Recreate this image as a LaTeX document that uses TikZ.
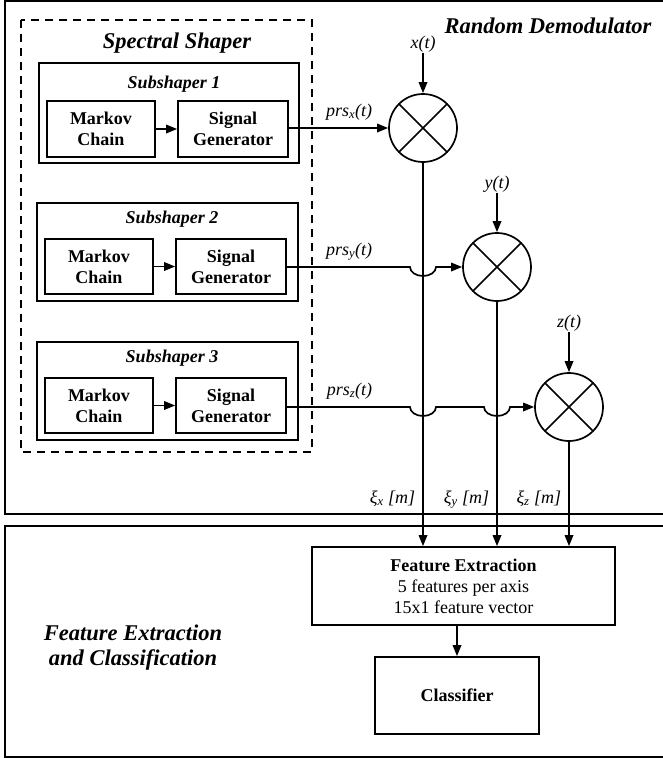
\documentclass[tikz,border=0pt]{standalone}
\usepackage{fontspec}
\setmainfont{Liberation Serif}
\usetikzlibrary{arrows.meta}
\begin{document}
\begin{tikzpicture}[x=1pt,y=-1pt, line width=1.7pt,
  box/.style={draw, line width=1.7pt, inner sep=0pt, align=center, font=\bfseries\fontsize{18}{21}\selectfont},
  arr/.style={-{Triangle[length=11pt,width=8.5pt]}},
  mult/.style={draw, circle, minimum size=68pt, inner sep=0pt,
    path picture={\draw[line width=1.7pt] (path picture bounding box.north west) -- (path picture bounding box.south east)
      (path picture bounding box.south west) -- (path picture bounding box.north east);}},
  ttl/.style={font=\bfseries\itshape\fontsize{22.5}{25}\selectfont, inner sep=0pt},
  sttl/.style={font=\bfseries\itshape\fontsize{18}{21}\selectfont, inner sep=0pt},
  lbl/.style={font=\itshape\fontsize{18}{21}\selectfont, inner sep=0pt}]
\useasboundingbox (0,0) rectangle (663,758);
\begin{scope}
\clip (0,0) rectangle (663,758);
% outer frames
\draw (5,1) rectangle (690,514);
\draw (5,526) rectangle (690,757);
\end{scope}
% dashed spectral shaper
\draw[dash pattern=on 8pt off 6pt] (21,20) rectangle (312,452);
\node[ttl, anchor=base] (ssh) at (177,48) {Spectral Shaper};
\node[ttl, anchor=base] (rdm) at (548,33) {Random Demodulator};
% subshaper frames
\draw (39,63) rectangle (299,163);
\draw (37,203) rectangle (298,301);
\draw (37,342) rectangle (298,440);
\node[sttl, anchor=base] (t1) at (174,88) {Subshaper 1};
\node[sttl, anchor=base] (t2) at (172,223) {Subshaper 2};
\node[sttl, anchor=base] (t3) at (172,362) {Subshaper 3};
% inner boxes
\node[box, minimum width=108pt, minimum height=56pt] (mc1) at (101,129) {Markov\\Chain};
\node[box, minimum width=110pt, minimum height=56pt] (sg1) at (233,129) {Signal\\Generator};
\node[box, minimum width=108pt, minimum height=55pt] (mc2) at (99,266.5) {Markov\\Chain};
\node[box, minimum width=110pt, minimum height=55pt] (sg2) at (231,266.5) {Signal\\Generator};
\node[box, minimum width=108pt, minimum height=55pt] (mc3) at (99,405.5) {Markov\\Chain};
\node[box, minimum width=110pt, minimum height=55pt] (sg3) at (231,405.5) {Signal\\Generator};
\draw[arr] (mc1) -- (sg1);
\draw[arr] (mc2) -- (sg2);
\draw[arr] (mc3) -- (sg3);
% multipliers
\node[mult] (c1) at (423,128) {};
\node[mult] (c2) at (497,267) {};
\node[mult] (c3) at (569,407) {};
\node[lbl, anchor=base] (xt) at (423,48) {x(t)};
\node[lbl, anchor=base] (yt) at (497,188) {y(t)};
\node[lbl, anchor=base] (zt) at (569,327) {z(t)};
\draw[arr] (xt.south) -- (c1.north);
\draw[arr] (yt.south) -- (c2.north);
\draw[arr] (zt.south) -- (c3.north);
\node[lbl, anchor=base east] (px) at (373,116) {prs\textsubscript{x}(t)};
\node[lbl, anchor=base east] (py) at (373,255) {prs\textsubscript{y}(t)};
\node[lbl, anchor=base east] (pz) at (373,395) {prs\textsubscript{z}(t)};
\draw[arr] (sg1.east |- c1.west) -- (c1.west);
\draw[arr] (sg2.east |- c2.west) -- (410,267) arc[start angle=180,end angle=0,x radius=13,y radius=9] -- (c2.west);
\draw[arr] (sg3.east |- c3.west) -- (410,407) arc[start angle=180,end angle=0,x radius=13,y radius=9]
   -- (484,407) arc[start angle=180,end angle=0,x radius=13,y radius=9] -- (c3.west);
% feature extraction
\node[box, font=\fontsize{18}{21}\selectfont, minimum width=303pt, minimum height=78pt] (fe) at (463.5,586)
  {\textbf{Feature Extraction}\\5 features per axis\\15x1 feature vector};
\node[box, minimum width=164pt, minimum height=77pt] (cl) at (457,695.5) {Classifier};
\draw[arr] (c1.south) -- (c1.south |- fe.north);
\draw[arr] (c2.south) -- (c2.south |- fe.north);
\draw[arr] (c3.south) -- (c3.south |- fe.north);
\draw[arr] (cl.north |- fe.south) -- (cl.north);
\node[lbl, anchor=base east] (xix) at (416,503) {ξ\textsubscript{x} [m]};
\node[lbl, anchor=base east] (xiy) at (490,503) {ξ\textsubscript{y} [m]};
\node[lbl, anchor=base east] (xiz) at (562,503) {ξ\textsubscript{z} [m]};
\node[ttl, align=center] (fec) at (133,648) {Feature Extraction\\and Classification};
\end{tikzpicture}
\end{document}
